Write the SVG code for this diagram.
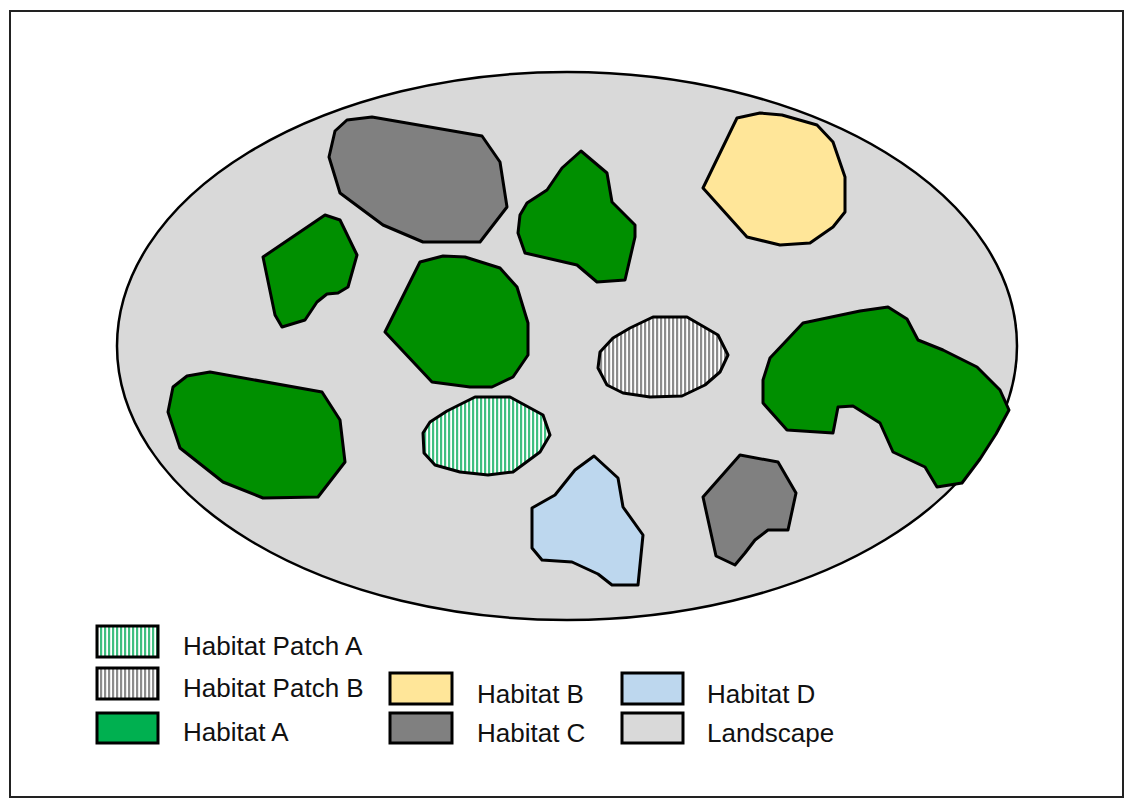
<svg xmlns="http://www.w3.org/2000/svg" width="1133" height="807" viewBox="0 0 1133 807">
<style>
.p{stroke:#000;stroke-width:3;stroke-linejoin:round}
.ga{fill:#008f00}
.gb{fill:#ffe699}
.gc{fill:#808080}
.gd{fill:#bdd7ee}
.land{fill:#d9d9d9}
.leg{stroke:#000;stroke-width:3}
.t{font-family:"Liberation Sans",Arial,sans-serif;font-size:26px;fill:#111}
</style>
<defs>
<pattern id="hatchA" width="4" height="4" patternUnits="userSpaceOnUse">
<rect width="4" height="4" fill="#ffffff"/>
<rect width="2.2" height="4" fill="#3fbf80"/>
</pattern>
<pattern id="hatchB" width="4" height="4" patternUnits="userSpaceOnUse">
<rect width="4" height="4" fill="#ffffff"/>
<rect width="2.2" height="4" fill="#8c8c8c"/>
</pattern>
</defs>
<rect x="10" y="11" width="1113" height="786" fill="#fff" stroke="#222" stroke-width="2"/>
<g id="landscape">
<ellipse cx="567" cy="346" rx="450" ry="274" class="land" stroke="#000" stroke-width="2.5"/>
</g>
<g id="habitatC-top"><polygon class="p gc" points="347,120 372,117 482,136 500,162 507,207 480,242 423,242 383,225 340,193 329,157 335,131"/></g>
<g id="habitatA-topcenter"><polygon class="p ga" points="581,151 607,173 612,202 635,225 635,237 625,280 597,282 577,265 525,253 518,233 520,215 527,203 547,190 562,168"/></g>
<g id="habitatB"><polygon class="p gb" points="737,118 760,113 782,115 817,125 833,142 845,177 845,212 833,227 810,243 780,245 747,237 703,188"/></g>
<g id="habitatA-left"><polygon class="p ga" points="263,257 325,215 340,220 357,255 348,287 338,293 327,294 317,302 305,320 282,327 275,315"/></g>
<g id="habitatA-mid"><polygon class="p ga" points="420,262 443,256 465,257 500,268 517,287 528,323 528,355 513,377 492,387 470,387 432,382 385,332"/></g>
<g id="habitatA-lowleft"><polygon class="p ga" points="187,376 210,372 322,392 340,420 345,462 318,497 263,498 223,482 180,448 168,412 173,387"/></g>
<g id="habitatA-right"><polygon class="p ga" points="803,323 860,311 888,307 907,319 918,340 943,350 977,367 1000,390 1009,410 996,434 980,459 962,483 937,487 925,467 893,452 880,423 853,406 838,407 833,433 787,430 763,403 763,380 770,358 787,340"/></g>
<g id="patchA"><polygon class="p" fill="url(#hatchA)" points="475,397 510,397 543,415 550,435 540,452 513,472 488,475 460,472 435,465 424,453 423,433 430,422 447,411"/></g>
<g id="patchB"><polygon class="p" fill="url(#hatchB)" points="653,317 687,317 718,335 728,355 720,372 705,385 682,396 650,397 623,393 607,385 598,368 600,352 613,338 630,328"/></g>
<g id="habitatD"><polygon class="p gd" points="594,456 618,478 623,507 643,535 638,585 612,585 598,574 572,562 542,560 532,548 532,508 555,495 575,470"/></g>
<g id="habitatC-bottom"><polygon class="p gc" points="740,455 778,462 796,493 788,530 768,530 755,540 745,553 735,565 716,556 703,497"/></g>
<g id="legend">
<g id="leg-patchA"><rect class="leg" fill="url(#hatchA)" x="97" y="626" width="61" height="31"/><text class="t" x="183" y="655">Habitat Patch A</text></g>
<g id="leg-patchB"><rect class="leg" fill="url(#hatchB)" x="97" y="668" width="61" height="31"/><text class="t" x="183" y="697">Habitat Patch B</text></g>
<g id="leg-habA"><rect class="leg" fill="#00b050" x="97" y="713" width="61" height="30"/><text class="t" x="183" y="741">Habitat A</text></g>
<g id="leg-habB"><rect class="leg" fill="#ffe699" x="390" y="673" width="62" height="31"/><text class="t" x="477" y="703">Habitat B</text></g>
<g id="leg-habC"><rect class="leg" fill="#808080" x="390" y="713" width="62" height="30"/><text class="t" x="477" y="742">Habitat C</text></g>
<g id="leg-habD"><rect class="leg" fill="#bdd7ee" x="622" y="673" width="61" height="31"/><text class="t" x="707" y="703">Habitat D</text></g>
<g id="leg-land"><rect class="leg" fill="#d9d9d9" x="622" y="713" width="61" height="30"/><text class="t" x="707" y="742">Landscape</text></g>
</g>
<g id="connectors"/>
</svg>
